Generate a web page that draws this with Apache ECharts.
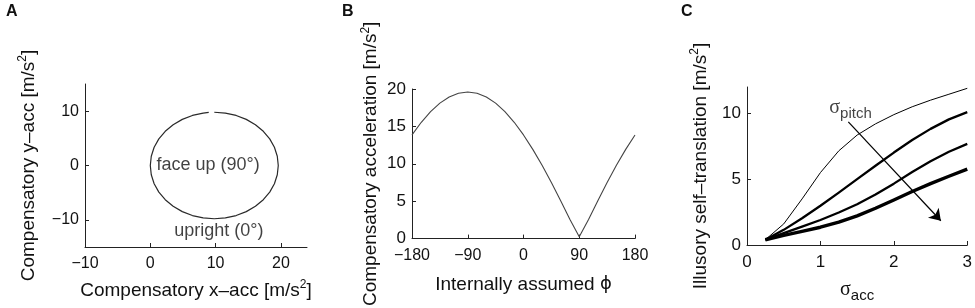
<!DOCTYPE html>
<html>
<head>
<meta charset="utf-8">
<script src="https://cdn.jsdelivr.net/npm/echarts@6/dist/echarts.min.js"></script>
<style>
html, body { margin: 0; padding: 0; background: #fff; }
#chart { width: 975px; height: 308px; }
</style>
</head>
<body>
<div id="chart"></div>
<script>
// A: compensatory acceleration for tilt angles -180..175 deg (circle, gap at top)
const accX = [9.8, 11.50, 13.15, 14.70, 16.10, 17.31, 18.29, 19.01, 19.45, 19.6,
  19.45, 19.01, 18.29, 17.31, 16.10, 14.70, 13.15, 11.50, 9.8,
  8.10, 6.45, 4.90, 3.50, 2.29, 1.31, 0.59, 0.15, 0,
  0.15, 0.59, 1.31, 2.29, 3.50, 4.90, 6.45, 8.10, 8.95];
const accY = [9.8, 9.65, 9.21, 8.49, 7.51, 6.30, 4.90, 3.35, 1.70, 0,
  -1.70, -3.35, -4.90, -6.30, -7.51, -8.49, -9.21, -9.65, -9.8,
  -9.65, -9.21, -8.49, -7.51, -6.30, -4.90, -3.35, -1.70, 0,
  1.70, 3.35, 4.90, 6.30, 7.51, 8.49, 9.21, 9.65, 9.76];
const noteText = ['face up (90°)', 'upright (0°)'];
const noteX = [8.85, 10.5];
const noteY = [0, -12];

// B: magnitude vs internally assumed angle
const phi = [-180, -165, -150, -135, -120, -105, -90, -75, -60, -45, -30, -15, 0,
  15, 30, 45, 60, 75, 90, 105, 120, 135, 150, 165, 180];
const compAcc = [13.86, 15.55, 16.97, 18.11, 18.93, 19.43, 19.6, 19.43, 18.93, 18.11, 16.97, 15.55, 13.86,
  11.93, 9.8, 7.5, 5.07, 2.56, 0.25, 2.56, 5.07, 7.5, 9.8, 11.93, 13.86];

// C: illusory self-translation vs sigma_acc, one curve per sigma_pitch
const sigmaAcc = [0.25, 0.5, 0.75, 1, 1.25, 1.5, 1.75, 2, 2.25, 2.5, 2.75, 3];
const trans1 = [0.4, 1.6, 3.5, 5.5, 7.15, 8.35, 9.2, 9.9, 10.5, 11.0, 11.45, 11.9];
const trans2 = [0.4, 1.15, 2.03, 2.98, 3.98, 5.0, 6.02, 7.02, 7.97, 8.82, 9.54, 10.09];
const trans3 = [0.4, 0.9, 1.4, 1.9, 2.47, 3.1, 3.83, 4.66, 5.54, 6.36, 7.08, 7.68];
const trans4 = [0.4, 0.73, 1.03, 1.35, 1.73, 2.21, 2.79, 3.42, 4.06, 4.66, 5.22, 5.76];
const lineWidths = [1, 2.3, 2.3, 3.4];
const arrowFrom = [1.38, 9.35];
const arrowTo = [2.64, 1.84];
const pitchLabelAt = [1.41, 10.4];

const FONT = 'Liberation Sans';
const INK = '#111';

const pair = (xs, ys) => xs.map((x, i) => [x, ys[i]]);
const minus = v => String(v).replace('-', '\u2212');

const richName = {
  sup: { fontSize: 12, verticalAlign: 'top', lineHeight: 14, fontFamily: FONT, color: INK },
  s: { fontSize: 20, fontFamily: 'Liberation Serif', color: INK, lineHeight: 26 },
  sub: { fontSize: 15, verticalAlign: 'bottom', lineHeight: 15, fontFamily: FONT, color: INK },
  phi: { fontSize: 18, fontFamily: 'DejaVu Sans', color: INK }
};

function axis(opt) {
  return Object.assign({
    type: 'value',
    nameLocation: 'middle',
    nameTextStyle: { fontSize: 19, fontFamily: FONT, color: INK, lineHeight: 24, rich: richName },
    axisLine: { show: true, onZero: false, lineStyle: { color: '#222', width: 1 } },
    axisTick: { show: true, inside: true, length: 4, lineStyle: { color: '#222' } },
    axisLabel: { fontSize: 16, fontFamily: FONT, color: INK, formatter: minus },
    splitLine: { show: false }
  }, opt);
}

const chart = echarts.init(document.getElementById('chart'));
chart.setOption({
  animation: false,
  textStyle: { fontFamily: FONT },
  title: [
    { text: 'A', left: 1, top: -1, textStyle: { fontSize: 16, fontWeight: 'bold', color: INK } },
    { text: 'B', left: 337, top: -1, textStyle: { fontSize: 16, fontWeight: 'bold', color: INK } },
    { text: 'C', left: 676, top: -1, textStyle: { fontSize: 16, fontWeight: 'bold', color: INK } }
  ],
  grid: [
    { left: 85, top: 84, width: 222, height: 163 },
    { left: 412, top: 89, width: 223, height: 160 },
    { left: 747, top: 87, width: 223, height: 161 }
  ],
  xAxis: [
    axis({ gridIndex: 0, min: -10, max: 24, name: 'Compensatory x\u2013acc [m/s{sup|2}]', nameGap: 32,
      axisLabel: { fontSize: 16, fontFamily: FONT, color: INK, formatter: minus, margin: 9, customValues: [-10, 0, 10, 20] },
      axisTick: { inside: true, length: 4, lineStyle: { color: '#222' }, customValues: [0, 10, 20] } }),
    axis({ gridIndex: 1, min: -180, max: 180, interval: 90, name: 'Internally assumed {phi|\u03d5}', nameGap: 34,
      axisLabel: { fontSize: 16, fontFamily: FONT, color: INK, formatter: minus, margin: 9 } }),
    axis({ gridIndex: 2, min: 0, max: 3, interval: 1, name: '{s|\u03c3}{sub|acc}', nameGap: 32,
      axisLabel: { fontSize: 17, fontFamily: FONT, color: INK, formatter: minus, margin: 9 } })
  ],
  yAxis: [
    axis({ gridIndex: 0, min: -15, max: 15, name: 'Compensatory y\u2013acc [m/s{sup|2}]', nameGap: 44,
      axisLabel: { fontSize: 16, fontFamily: FONT, color: INK, formatter: minus, margin: 6, customValues: [-10, 0, 10] },
      axisTick: { inside: true, length: 4, lineStyle: { color: '#222' }, customValues: [-10, 0, 10] } }),
    axis({ gridIndex: 1, min: 0, max: 20, interval: 5, name: 'Compensatory acceleration [m/s{sup|2}]', nameGap: 24,
      axisLabel: { fontSize: 17, fontFamily: FONT, color: INK, formatter: minus, margin: 6 } }),
    axis({ gridIndex: 2, min: 0, max: 12, name: 'Illusory self\u2013translation [m/s{sup|2}]', nameGap: 34,
      axisLabel: { fontSize: 17, fontFamily: FONT, color: INK, formatter: minus, margin: 6, customValues: [0, 5, 10] },
      axisTick: { inside: true, length: 4, lineStyle: { color: '#222' }, customValues: [5, 10] } })
  ],
  series: [
    {
      type: 'line', xAxisIndex: 0, yAxisIndex: 0, showSymbol: false, silent: true,
      lineStyle: { color: '#2a2a2a', width: 1.2 },
      data: pair(accX, accY)
    },
    {
      type: 'scatter', xAxisIndex: 0, yAxisIndex: 0, symbolSize: 0, silent: true,
      label: { show: true, position: 'inside', fontSize: 18, fontFamily: FONT, color: INK,
        formatter: p => noteText[p.dataIndex] },
      data: pair(noteX, noteY)
    },
    {
      type: 'line', xAxisIndex: 1, yAxisIndex: 1, showSymbol: false, silent: true,
      lineStyle: { color: '#444', width: 1.1 },
      data: pair(phi, compAcc)
    },
    ...[trans1, trans2, trans3, trans4].map((ys, i) => ({
      type: 'line', xAxisIndex: 2, yAxisIndex: 2, showSymbol: false, silent: true,
      lineStyle: { color: '#000', width: lineWidths[i], join: 'round' },
      data: pair(sigmaAcc, ys),
      markLine: i === 0 ? {
        silent: true, symbol: ['none', 'arrow'], symbolSize: 11,
        lineStyle: { color: '#000', width: 1.2, type: 'solid' },
        label: { show: false },
        data: [[{ coord: arrowFrom }, { coord: arrowTo }]]
      } : undefined
    })),
    {
      type: 'scatter', xAxisIndex: 2, yAxisIndex: 2, symbolSize: 0, silent: true,
      label: { show: true, position: 'inside', formatter: '{s|\u03c3}{sub|pitch}', rich: richName },
      data: [pitchLabelAt]
    }
  ]
});
</script>
</body>
</html>
